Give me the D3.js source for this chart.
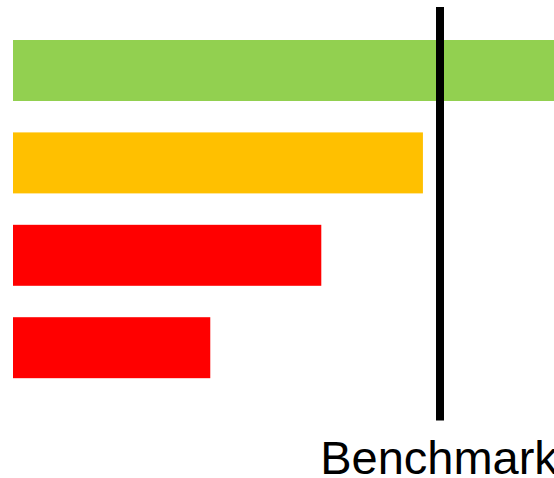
<!DOCTYPE html>
<html>
<head>
<meta charset="utf-8">
<script src="https://cdn.jsdelivr.net/npm/d3@7/dist/d3.min.js"></script>
<style>
  html, body { margin: 0; padding: 0; background: #fff; overflow: hidden; }
  svg { display: block; }
</style>
</head>
<body>
<svg id="chart" width="554" height="478"></svg>
<script>
// Performance against benchmark (benchmark = 100)
const categories = ["A", "B", "C", "D"];
const values = [135, 96, 72.2, 46.2];
const barColors = ["#92D050", "#FFC000", "#FF0000", "#FF0000"];
const benchmarkValue = 100;
const benchmarkLabel = "Benchmark";

const svg = d3.select("#chart");

const x = d3.scaleLinear()
  .domain([0, benchmarkValue])
  .range([13, 440]);

const y = d3.scaleBand()
  .domain(categories)
  .range([24.3, 393.9])
  .paddingInner(0.34)
  .paddingOuter(0.17);

// Bars
svg.append("g")
  .selectAll("rect")
  .data(categories)
  .join("rect")
  .attr("x", x(0))
  .attr("y", d => y(d))
  .attr("width", (d, i) => x(values[i]) - x(0))
  .attr("height", y.bandwidth())
  .attr("fill", (d, i) => barColors[i]);

// Benchmark line
svg.append("line")
  .attr("x1", x(benchmarkValue))
  .attr("x2", x(benchmarkValue))
  .attr("y1", 7)
  .attr("y2", 420.5)
  .attr("stroke", "#000")
  .attr("stroke-width", 8);

// Benchmark label, centred under the line (runs past the right edge)
svg.append("text")
  .attr("x", x(benchmarkValue) - 1)
  .attr("y", 474)
  .attr("text-anchor", "middle")
  .attr("font-family", "Arial, 'Liberation Sans', sans-serif")
  .attr("font-size", 47)
  .attr("fill", "#000")
  .text(benchmarkLabel);
</script>
</body>
</html>
